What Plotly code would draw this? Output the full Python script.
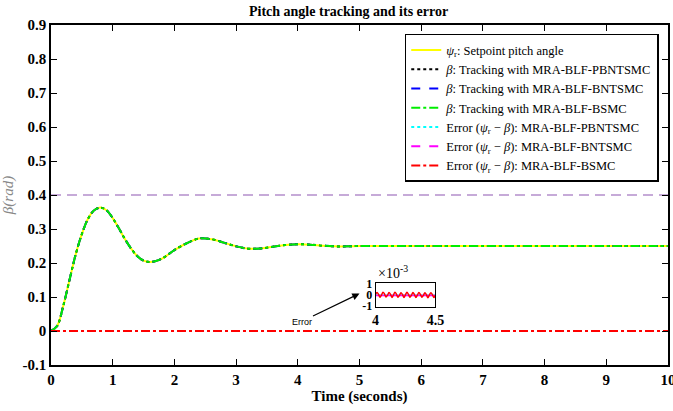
import plotly.graph_objects as go

# ---------------- data ----------------
time_s = [0, 0.1, 0.2, 0.3, 0.4, 0.5, 0.6, 0.7, 0.8, 0.9, 1.0, 1.1, 1.2, 1.3, 1.4,
          1.5, 1.6, 1.7, 1.8, 1.9, 2.0, 2.2, 2.4, 2.6, 2.8, 3.0, 3.2, 3.4, 3.6, 3.8,
          4.0, 4.2, 4.4, 4.6, 4.8, 5.0, 5.5, 6.0, 7.0, 8.0, 9.0, 10.0]
setpoint = [0, 0.015, 0.075, 0.15, 0.225, 0.285, 0.33, 0.355, 0.363, 0.355, 0.332,
            0.302, 0.27, 0.242, 0.22, 0.207, 0.203, 0.206, 0.213, 0.225, 0.238,
            0.258, 0.272, 0.27, 0.26, 0.249, 0.242, 0.243, 0.248, 0.253, 0.255,
            0.254, 0.251, 0.249, 0.249, 0.25, 0.25, 0.25, 0.25, 0.25, 0.25, 0.25]
beta_pbntsmc = list(setpoint)
beta_bntsmc = list(setpoint)
beta_bsmc = list(setpoint)
err_pbntsmc = [0.0] * len(time_s)
err_bntsmc = [0.0] * len(time_s)
err_bsmc = [0.0] * len(time_s)
bound_value = 0.4

inset_t = [4.0 + 0.0125 * i for i in range(41)]
inset_err_bsmc_e3 = [0.05, 0.22, 0.05, -0.2, 0.0, 0.25, 0.08, -0.18, -0.02, 0.22,
                     0.05, -0.22, 0.0, 0.24, 0.06, -0.2, -0.03, 0.2, 0.04, -0.22,
                     0.02, 0.23, 0.05, -0.2, -0.02, 0.21, 0.03, -0.22, 0.0, 0.22,
                     0.04, -0.2, -0.03, 0.2, 0.02, -0.24, 0.0, 0.2, 0.03, -0.22, 0.0]
inset_err_bntsmc_e3 = [-0.05] * 41
inset_err_pbntsmc_e3 = [-0.03] * 41

x_ticks = [0, 1, 2, 3, 4, 5, 6, 7, 8, 9, 10]
y_ticks = [-0.1, 0, 0.1, 0.2, 0.3, 0.4, 0.5, 0.6, 0.7, 0.8, 0.9]

# ---------------- figure ----------------
SERIF = "Liberation Serif, Times New Roman, serif"
fig = go.Figure()

fig.add_trace(go.Scatter(x=[0, 10], y=[bound_value, bound_value], mode="lines",
                         line=dict(color="#b48fcc", width=1.5, dash="10px,6px"),
                         showlegend=False, hoverinfo="skip"))

fig.add_trace(go.Scatter(x=time_s, y=setpoint, mode="lines", line_shape="spline",
                         line=dict(color="#ffff00", width=2),
                         name="<i>ψ</i><sub>r</sub>: Setpoint pitch angle"))
fig.add_trace(go.Scatter(x=time_s, y=beta_pbntsmc, mode="lines", line_shape="spline",
                         line=dict(color="black", width=2, dash="dot"),
                         name="<i>β</i>: Tracking with MRA-BLF-PBNTSMC"))
fig.add_trace(go.Scatter(x=time_s, y=beta_bntsmc, mode="lines", line_shape="spline",
                         line=dict(color="#0000ff", width=2, dash="dash"),
                         name="<i>β</i>: Tracking with MRA-BLF-BNTSMC"))
fig.add_trace(go.Scatter(x=time_s, y=beta_bsmc, mode="lines", line_shape="spline",
                         line=dict(color="#00ee00", width=2, dash="dashdot"),
                         name="<i>β</i>: Tracking with MRA-BLF-BSMC"))
fig.add_trace(go.Scatter(x=time_s, y=err_pbntsmc, mode="lines",
                         line=dict(color="#00ffff", width=2, dash="dot"),
                         name="Error (<i>ψ</i><sub>r</sub> − <i>β</i>): MRA-BLF-PBNTSMC"))
fig.add_trace(go.Scatter(x=time_s, y=err_bntsmc, mode="lines",
                         line=dict(color="#ff00ff", width=2, dash="dash"),
                         name="Error (<i>ψ</i><sub>r</sub> − <i>β</i>): MRA-BLF-BNTSMC"))
fig.add_trace(go.Scatter(x=time_s, y=err_bsmc, mode="lines",
                         line=dict(color="#ff0000", width=2, dash="dashdot"),
                         name="Error (<i>ψ</i><sub>r</sub> − <i>β</i>): MRA-BLF-BSMC"))

# inset
fig.add_trace(go.Scatter(x=inset_t, y=inset_err_pbntsmc_e3, mode="lines", xaxis="x2", yaxis="y2",
                         line=dict(color="#00ffff", width=1.5), showlegend=False))
fig.add_trace(go.Scatter(x=inset_t, y=inset_err_bntsmc_e3, mode="lines", xaxis="x2", yaxis="y2",
                         line=dict(color="#ff00ff", width=1.5), showlegend=False))
fig.add_trace(go.Scatter(x=inset_t, y=inset_err_bsmc_e3, mode="lines", xaxis="x2", yaxis="y2",
                         line=dict(color="#ff0000", width=1.5), line_shape="spline",
                         showlegend=False))

axis_common = dict(showgrid=False, zeroline=False, showline=True, linecolor="black",
                   linewidth=1.5, mirror="ticks", ticks="inside", ticklen=6,
                   tickcolor="black", tickwidth=1.2, automargin=False,
                   ticklabeloverflow="allow")

fig.update_layout(
    width=673, height=411,
    margin=dict(l=51, r=5, t=25, b=46),
    paper_bgcolor="white", plot_bgcolor="white",
    font=dict(family=SERIF, color="black"),
    title=dict(text="<b>Pitch angle tracking and its error</b>", x=0.518, xanchor="center",
               y=1 - 11 / 411, yanchor="middle", font=dict(size=14, family=SERIF)),
    xaxis=dict(range=[0, 10], tickvals=x_ticks, ticktext=[f"<b>{v}</b>" for v in x_ticks],
               tickfont=dict(size=15, family=SERIF),
               title=dict(text="<b>Time (seconds)</b>", font=dict(size=15, family=SERIF), standoff=4),
               **axis_common),
    yaxis=dict(range=[-0.1, 0.9], tickvals=y_ticks,
               ticktext=["<b>%g</b>" % v for v in y_ticks],
               tickfont=dict(size=15, family=SERIF),
               title=dict(text="<i>β(rad)</i>", font=dict(size=15, family=SERIF, color="#888888"),
                          standoff=6),
               **axis_common),
    xaxis2=dict(domain=[0.526, 0.623], anchor="y2", range=[4, 4.5], tickvals=[4, 4.5],
                ticktext=["<b>4</b>", "<b>4.5</b>"], tickfont=dict(size=14, family=SERIF),
                showgrid=False, zeroline=False, showline=True, linecolor="black", linewidth=1,
                mirror=True, ticks="", automargin=False, ticklabeloverflow="allow"),
    yaxis2=dict(domain=[0.171, 0.241], anchor="x2", range=[-1.05, 1.05], tickvals=[-1, 0, 1],
                ticktext=["<b>-1</b>", "<b>0</b>", "<b>1</b>"], tickfont=dict(size=12, family=SERIF),
                showgrid=False, zeroline=False, showline=True, linecolor="black", linewidth=1,
                mirror=True, ticks="", automargin=False, ticklabeloverflow="allow"),
    legend=dict(x=0.985, y=0.974, xanchor="right", yanchor="top", bgcolor="white",
                bordercolor="black", borderwidth=1.5, font=dict(size=12.5, family=SERIF),
                tracegroupgap=0, itemwidth=30),
)

fig.add_annotation(x=4.0, y=1.05, xref="x2", yref="y2", text="×10<sup>-3</sup>",
                   showarrow=False, xanchor="left", yanchor="bottom",
                   font=dict(size=14, family=SERIF))
fig.add_annotation(x=5.0, y=0.11, xref="x", yref="y", text="Error", showarrow=True,
                   ax=-58, ay=28, arrowhead=2, arrowsize=1.2, arrowwidth=1.2,
                   arrowcolor="black", font=dict(size=9, family="Liberation Sans"))

fig.write_html("out.html")
